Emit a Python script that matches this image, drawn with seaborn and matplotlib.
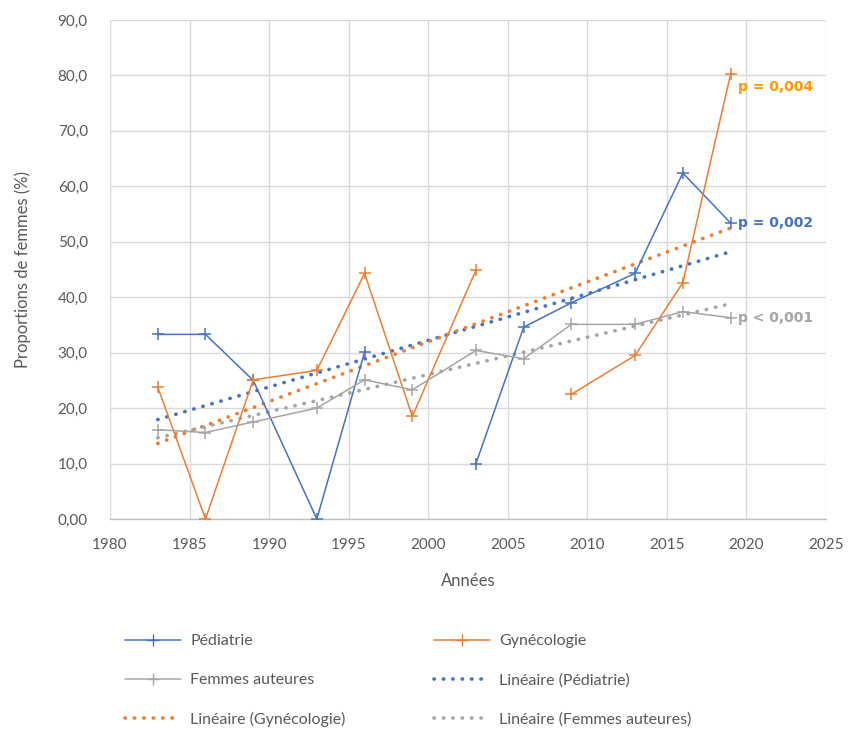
import numpy as np
import pandas as pd
import matplotlib
matplotlib.use("Agg")
import matplotlib.pyplot as plt
from matplotlib.lines import Line2D
import seaborn as sns

years = [1983, 1986, 1989, 1993, 1996, 1999, 2003, 2006, 2009, 2013, 2016, 2019]
pediatrie = [33.3, 33.3, 25.0, 0.0, 30.1, np.nan, 10.0, 34.6, 39.0, 44.3, 62.4, 53.4]
gynecologie = [23.8, 0.0, 25.1, 26.8, 44.3, 18.5, 44.9, np.nan, 22.5, 29.5, 42.6, 80.2]
femmes = [16.1, 15.6, 17.5, 20.0, 25.1, 23.3, 30.4, 28.9, 35.1, 35.1, 37.4, 36.3]

series_names = ["Pédiatrie", "Gynécologie", "Femmes auteures"]
series_colors = ["#4472C4", "#ED7D31", "#A5A5A5"]
p_labels = ["p = 0,002", "p = 0,004", "p < 0,001"]
p_colors = ["#4472C4", "#FF9900", "#A5A5A5"]

x_ticks = [1980, 1985, 1990, 1995, 2000, 2005, 2010, 2015, 2020, 2025]
y_ticks = [0, 10, 20, 30, 40, 50, 60, 70, 80, 90]
y_tick_labels = ["0,00", "10,0", "20,0", "30,0", "40,0", "50,0", "60,0", "70,0", "80,0", "90,0"]

sns.set_theme(style="white")
plt.rcParams["font.family"] = ["Lato", "DejaVu Sans"]
text_color = "#595959"

fig = plt.figure(figsize=(8.48, 7.30), dpi=100)
ax = fig.add_axes([110 / 848, 1 - 519 / 730, (826 - 110) / 848, (519 - 20) / 730])

all_vals = [pediatrie, gynecologie, femmes]
for name, vals, col, pl, pc in zip(series_names, all_vals, series_colors, p_labels, p_colors):
    df = pd.DataFrame({"x": years, "y": vals})
    # segment ids so gaps (missing values) are kept as breaks
    df["seg"] = df["y"].isna().cumsum()
    dfc = df.dropna()
    sns.lineplot(data=dfc, x="x", y="y", units="seg", estimator=None, ax=ax,
                 color=col, lw=1.1, marker="+", markersize=9, markeredgewidth=1.1,
                 markeredgecolor=col, legend=False, zorder=3)
    sns.regplot(data=dfc, x="x", y="y", scatter=False, ci=None, ax=ax, truncate=True,
                line_kws=dict(color=col, lw=2.6, linestyle=(0, (0.1, 2.5)),
                              dash_capstyle="round", zorder=2))
    last = dfc.iloc[-1]
    ax.text(last["x"] + 0.45, last["y"] - (2.2 if name == "Gynécologie" else 0), pl,
            color=pc, fontsize=10, fontweight="bold", family="DejaVu Sans",
            ha="left", va="center", zorder=4)

ax.set_xlim(1980, 2025)
ax.set_ylim(0, 90)
ax.set_xticks(x_ticks)
ax.set_xticklabels([str(t) for t in x_ticks])
ax.set_yticks(y_ticks)
ax.set_yticklabels(y_tick_labels)
ax.grid(True, color="#D9D9D9", lw=1)
ax.set_axisbelow(True)
for s in ["top", "right", "left"]:
    ax.spines[s].set_visible(False)
ax.spines["bottom"].set_color("#BFBFBF")
ax.spines["bottom"].set_linewidth(1)
ax.tick_params(axis="both", colors=text_color, labelsize=11, length=0)
ax.tick_params(axis="x", pad=14)
ax.tick_params(axis="y", pad=16)
ax.set_xlabel("Années", fontsize=12, color=text_color, labelpad=15)
ax.set_ylabel("Proportions de femmes (%)", fontsize=12, color=text_color, labelpad=19)

dot = (0, (0.1, 2.5))
handles = [
    Line2D([], [], color=series_colors[0], lw=1.1, marker="+", markersize=9, markevery=[1], label="Pédiatrie"),
    Line2D([], [], color=series_colors[2], lw=1.1, marker="+", markersize=9, markevery=[1], label="Femmes auteures"),
    Line2D([], [], color=series_colors[1], lw=2.6, linestyle=dot, dash_capstyle="round", label="Linéaire (Gynécologie)"),
    Line2D([], [], color=series_colors[1], lw=1.1, marker="+", markersize=9, markevery=[1], label="Gynécologie"),
    Line2D([], [], color=series_colors[0], lw=2.6, linestyle=dot, dash_capstyle="round", label="Linéaire (Pédiatrie)"),
    Line2D([], [], color=series_colors[2], lw=2.6, linestyle=dot, dash_capstyle="round", label="Linéaire (Femmes auteures)"),
]
for h in handles:
    if h.get_marker() == "+":
        h.set_xdata([0, 0.5, 1]); h.set_ydata([0, 0, 0])
leg = fig.legend(handles=handles, ncol=2, loc="upper left", bbox_to_anchor=(125 / 848, 1 - 634 / 730),
                 frameon=False, fontsize=11.5, handlelength=3.5, handletextpad=0.6,
                 columnspacing=5.5, labelspacing=1.55, borderpad=0, borderaxespad=0)
for t in leg.get_texts():
    t.set_color(text_color)

fig.savefig("out.png", dpi=100)
